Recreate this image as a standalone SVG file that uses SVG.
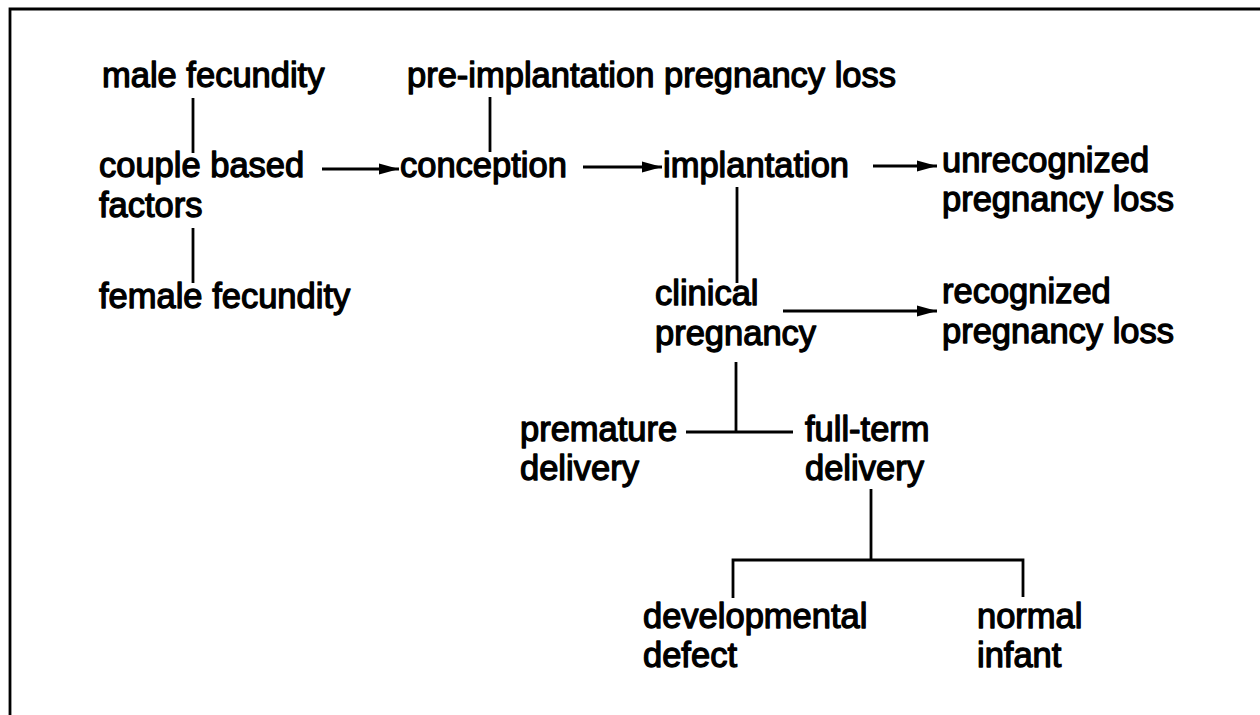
<svg xmlns="http://www.w3.org/2000/svg" width="1260" height="715" viewBox="0 0 1260 715">
<defs>
<style>
text{font-family:"Liberation Sans",Arial,Helvetica,sans-serif;font-size:34.5px;fill:#000;stroke:#000;stroke-width:1.3;stroke-linejoin:round}
.ln{stroke:#000;stroke-width:2.8;fill:none}
</style>
<marker id="ah" markerUnits="userSpaceOnUse" markerWidth="22" markerHeight="14" refX="20" refY="7" orient="auto">
<path d="M0,1.5 L20,7 L0,12.5 Z" fill="#000"/>
</marker>
</defs>
<rect width="1260" height="715" fill="#fff"/>
<path class="ln" d="M10,715 V9 H1260" stroke-width="3"/>
<g id="connectors">
<line class="ln" x1="193" y1="98" x2="193" y2="153"/>
<line class="ln" x1="193" y1="228" x2="193" y2="283"/>
<line class="ln" x1="490" y1="97" x2="490" y2="152"/>
<line class="ln" x1="322" y1="169" x2="399" y2="169" marker-end="url(#ah)"/>
<line class="ln" x1="583" y1="167" x2="662" y2="167" marker-end="url(#ah)"/>
<line class="ln" x1="873" y1="166" x2="937" y2="166" marker-end="url(#ah)"/>
<line class="ln" x1="737" y1="187" x2="737" y2="283"/>
<line class="ln" x1="783" y1="311" x2="937" y2="311" marker-end="url(#ah)"/>
<line class="ln" x1="736" y1="362" x2="736" y2="432"/>
<line class="ln" x1="686" y1="432" x2="793" y2="432"/>
<line class="ln" x1="871" y1="489" x2="871" y2="560"/>
<path class="ln" d="M733,598 V560 H1023 V597"/>
</g>
<g id="male-fecundity"><text x="102" y="87">male fecundity</text></g>
<g id="pre-implantation"><text x="407" y="87">pre-implantation pregnancy loss</text></g>
<g id="couple-based"><text x="99" y="177">couple based</text><text x="99" y="217">factors</text></g>
<g id="female-fecundity"><text x="99" y="308">female fecundity</text></g>
<g id="conception"><text x="400" y="177">conception</text></g>
<g id="implantation"><text x="663" y="177">implantation</text></g>
<g id="unrecognized"><text x="942" y="172">unrecognized</text><text x="942" y="211">pregnancy loss</text></g>
<g id="clinical"><text x="655" y="305">clinical</text><text x="655" y="345">pregnancy</text></g>
<g id="recognized"><text x="942" y="303">recognized</text><text x="942" y="343">pregnancy loss</text></g>
<g id="premature"><text x="520" y="441">premature</text><text x="520" y="480">delivery</text></g>
<g id="full-term"><text x="805" y="441">full-term</text><text x="805" y="480">delivery</text></g>
<g id="developmental"><text x="643" y="628">developmental</text><text x="643" y="667">defect</text></g>
<g id="normal"><text x="977" y="628">normal</text><text x="977" y="667">infant</text></g>
</svg>
